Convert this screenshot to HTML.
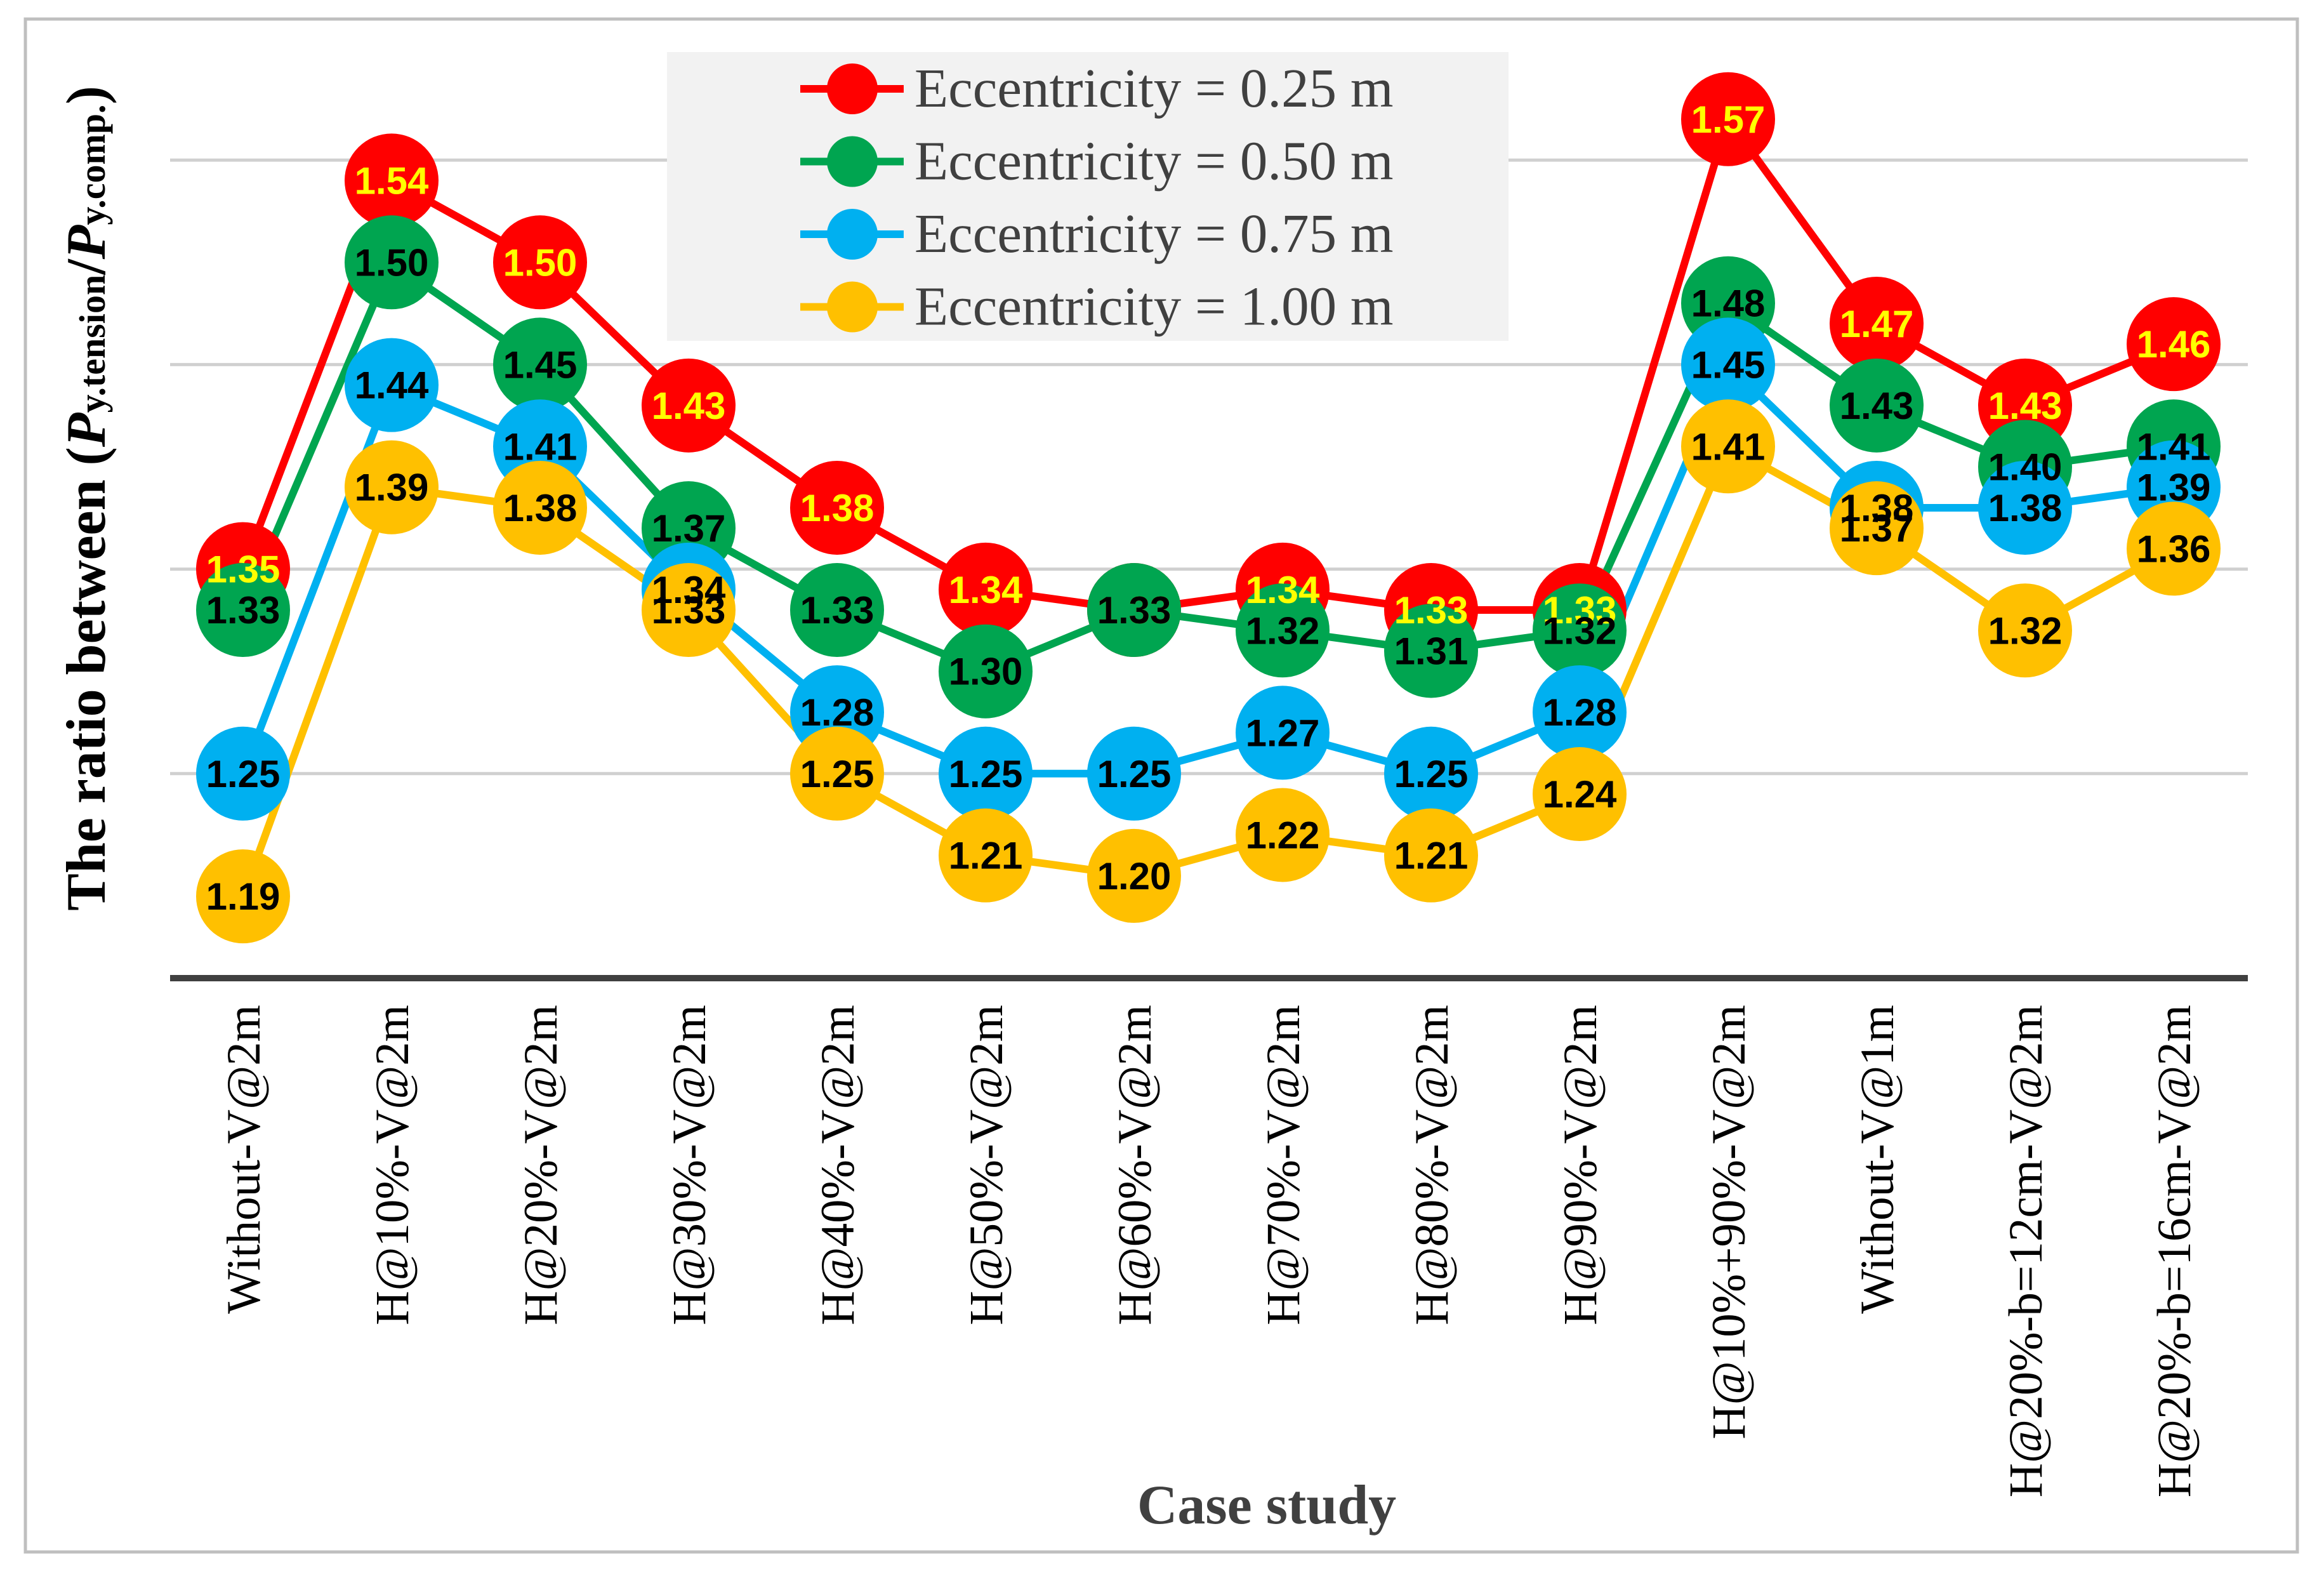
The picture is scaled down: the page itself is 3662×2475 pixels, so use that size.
<!DOCTYPE html>
<html><head><meta charset="utf-8"><style>
html,body{margin:0;padding:0;background:#fff}
svg{display:block}
</style></head><body>
<svg id="chart" width="3662" height="2475" viewBox="0 0 3662 2475" xmlns="http://www.w3.org/2000/svg">
<rect x="40" y="30" width="3580" height="2415" fill="#fff" stroke="#bfbfbf" stroke-width="5"/>
<g id="grid"></g>
<g id="series"></g>
<g id="xlabels"></g>
<g id="legend"></g>
<text transform="translate(165,785) rotate(-90)" text-anchor="middle" font-family="Liberation Serif, serif" font-weight="bold" font-size="88">The ratio between (<tspan font-style="italic">P</tspan><tspan font-size="58">y.tension</tspan>/<tspan font-style="italic">P</tspan><tspan font-size="58">y.comp.</tspan>)</text>
<text x="1996" y="2400" text-anchor="middle" font-family="Liberation Serif, serif" font-weight="bold" font-size="88" fill="#404040">Case study</text>
</svg>
<script>
const categories = ["Without-V@2m","H@10%-V@2m","H@20%-V@2m","H@30%-V@2m","H@40%-V@2m","H@50%-V@2m","H@60%-V@2m","H@70%-V@2m","H@80%-V@2m","H@90%-V@2m","H@10%+90%-V@2m","Without-V@1m","H@20%-b=12cm-V@2m","H@20%-b=16cm-V@2m"];
const ecc025 = [1.35,1.54,1.50,1.43,1.38,1.34,1.33,1.34,1.33,1.33,1.57,1.47,1.43,1.46];
const ecc050 = [1.33,1.50,1.45,1.37,1.33,1.30,1.33,1.32,1.31,1.32,1.48,1.43,1.40,1.41];
const ecc075 = [1.25,1.44,1.41,1.34,1.28,1.25,1.25,1.27,1.25,1.28,1.45,1.38,1.38,1.39];
const ecc100 = [1.19,1.39,1.38,1.33,1.25,1.21,1.20,1.22,1.21,1.24,1.41,1.37,1.32,1.36];
const seriesNames = ["Eccentricity = 0.25 m","Eccentricity = 0.50 m","Eccentricity = 0.75 m","Eccentricity = 1.00 m"];
const gridTicks = [1.25,1.35,1.45,1.55];

const NS="http://www.w3.org/2000/svg";
const yMin=1.15, y0=1541, pxPerUnit=3222;
function yScale(v){return y0-(v-yMin)*pxPerUnit;}
function xScale(i){return 383+i*234;}
function mk(tag,attrs,parent){const e=document.createElementNS(NS,tag);for(const k in attrs)e.setAttribute(k,attrs[k]);parent.appendChild(e);return e;}

const grid=document.getElementById('grid');
gridTicks.forEach(t=>{
  const l=mk('line',{x1:268,x2:3542,y1:yScale(t),y2:yScale(t),stroke:'#d0d0d0','stroke-width':5},grid);
  
  
});
const ax=mk('line',{x1:268,x2:3542,y1:yScale(yMin),y2:yScale(yMin),stroke:'#404040','stroke-width':10},grid);



const allSeries=[ecc025,ecc050,ecc075,ecc100];
const colors=['#ff0000','#00a550','#00b0f0','#ffc000'];
const textColors=['#ffff00','#000','#000','#000'];
const sg=document.getElementById('series');
allSeries.forEach((s,si)=>{
  const pl=mk('polyline',{points:s.map((v,i)=>xScale(i)+','+yScale(v)).join(' '),fill:'none',stroke:colors[si],'stroke-width':12,'stroke-linejoin':'round'},sg);
  
  
});
allSeries.forEach((s,si)=>{
  s.forEach((v,i)=>{
    const c=mk('circle',{cx:xScale(i),cy:yScale(v),r:74,fill:colors[si]},sg);
    
    
  });
});
allSeries.forEach((s,si)=>{
  s.forEach((v,i)=>{
    const t=mk('text',{x:xScale(i),y:yScale(v)+21,'text-anchor':'middle','font-family':'Liberation Sans, sans-serif','font-weight':'bold','font-size':60,fill:textColors[si]},sg);
    t.textContent=v.toFixed(2);
    
    
  });
});

const xl=document.getElementById('xlabels');
categories.forEach((c,i)=>{
  const t=mk('text',{transform:'translate('+(xScale(i)+26)+',1583) rotate(-90)','text-anchor':'end','font-family':'Liberation Serif, serif','font-size':75,fill:'#000'},xl);
  t.textContent=c;
  
  
});

const lg=document.getElementById('legend');
const bg=mk('rect',{x:1051,y:82,width:1326,height:455,fill:'#f2f2f2'},lg);


seriesNames.forEach((n,si)=>{
  const y=140+si*114.5;
  const g=mk('g',{},lg);
  
  
  mk('line',{x1:1261,x2:1424,y1:y,y2:y,stroke:colors[si],'stroke-width':12},g);
  mk('circle',{cx:1343,cy:y,r:40,fill:colors[si]},g);
  const t=mk('text',{x:1441,y:y+28,'font-family':'Liberation Serif, serif','font-size':87,fill:'#404040'},g);
  t.textContent=n;
});
</script>
</body></html>
